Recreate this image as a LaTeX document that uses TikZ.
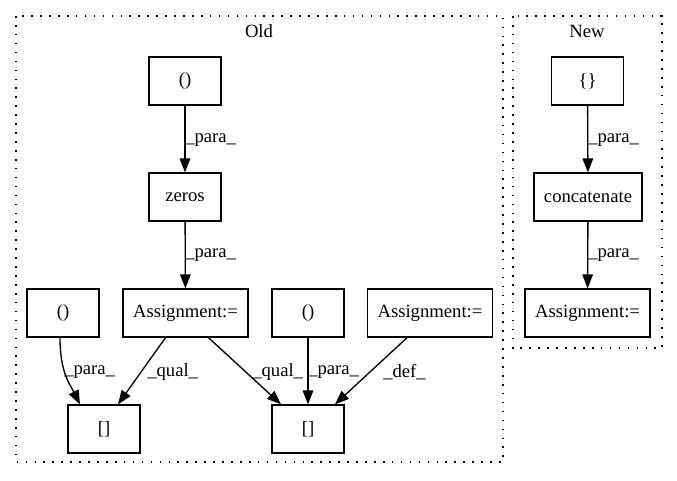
\documentclass[tikz,border=0pt]{standalone}
\usepackage{fontspec}
\setmainfont{Liberation Serif}
\usetikzlibrary{arrows.meta,calc}
\begin{document}
\begin{tikzpicture}[x=0.75pt,y=-0.75pt,
  box/.style={draw,line width=1pt,minimum height=36pt,inner sep=0pt,font=\fontsize{14}{16}\selectfont},
  sbox/.style={box,minimum width=54pt},
  abox/.style={box,minimum width=93.75pt},
  cbox/.style={box,minimum width=81pt},
  edge/.style={draw,line width=1pt,-{Triangle[length=10.5pt,width=8pt]}},
  elab/.style={anchor=west,inner sep=0pt,font=\fontsize{14}{16}\selectfont},
  cluster/.style={draw,line width=1pt,dash pattern=on 1.2pt off 5.5pt},
  ctitle/.style={inner sep=0pt,font=\fontsize{14}{16}\selectfont}]
\useasboundingbox (0,0) rectangle (677,480);
\draw[cluster] (16,16) rectangle (503,462);
\draw[cluster] (513,16) rectangle (662,348);
\node[ctitle] (old) at (259,31) {Old};
\node[ctitle] (new) at (587,31) {New};
% Old
\node[sbox] (pt) at (185,81) {()};
\node[sbox] (z) at (185,197) {zeros};
\node[abox] (al) at (185.5,313) {Assignment:=};
\node[sbox] (pl) at (63,313) {()};
\node[sbox] (pm) at (308,313) {()};
\node[abox] (ar) at (430,313) {Assignment:=};
\node[sbox] (bl) at (104,429) {[]};
\node[sbox] (br) at (308,429) {[]};
% New
\node[sbox] (cb) at (587.5,81) {\{\}};
\node[cbox] (cc) at (588,197) {concatenate};
\node[abox] (an) at (587.5,313) {Assignment:=};
% edges
\draw[edge] (pt) -- (z);
\node[elab] at (185,140) {\_para\_};
\draw[edge] (z) -- (al);
\node[elab] at (185,255) {\_para\_};
\draw[edge] ($(pl.south)+(-3,0)$) .. controls ($(pl.south)+(-3,35)$) and ($(bl.north)+(-34,-20)$) .. ($(bl.north)+(-24,0)$);
\node[elab] at (64,372) {\_para\_};
\draw[edge] ($(al.south)+(-20,0)$) -- ($(bl.north)+(14,0)$);
\node[elab] at (147,372) {\_qual\_};
\draw[edge] ($(al.south)+(23,0)$) -- ($(br.north)+(-27,0)$);
\node[elab] at (252,372) {\_qual\_};
\draw[edge] (pm) -- (br);
\node[elab] at (308,372) {\_para\_};
\draw[edge] ($(ar.south)+(-23,0)$) -- ($(br.north)+(27,0)$);
\node[elab] at (383,372) {\_def\_};
\draw[edge] (cb) -- (cc);
\node[elab] at (588,140) {\_para\_};
\draw[edge] (cc) -- (an);
\node[elab] at (588,255) {\_para\_};
\end{tikzpicture}
\end{document}
